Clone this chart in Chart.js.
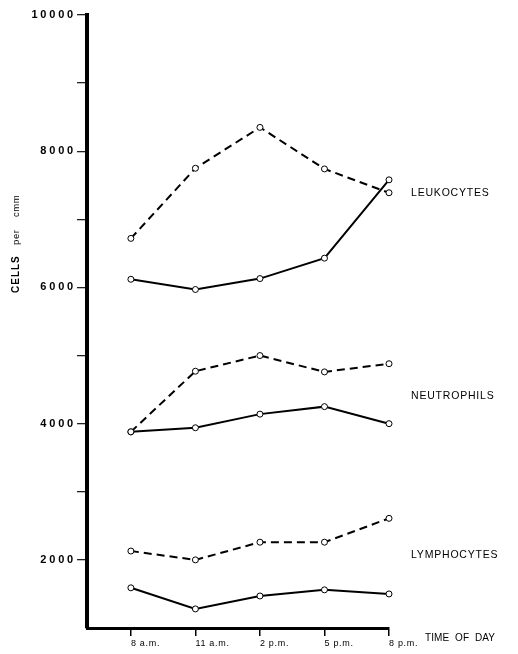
<!DOCTYPE html>
<html>
<head>
<meta charset="utf-8">
<style>
  html, body { margin: 0; padding: 0; background: #fff; }
  canvas { display: block; }
</style>
<script src="https://cdn.jsdelivr.net/npm/chart.js@4.4.1/dist/chart.umd.min.js"></script>
</head>
<body>
<canvas id="cells" width="518" height="654"></canvas>
<script>
// Sampling times
const timeLabels = ['8 a.m.', '11 a.m.', '2 p.m.', '5 p.m.', '8 p.m.'];

// Cell counts per cmm; group A is drawn dashed, group B solid
const leukocytesA  = [6720, 7750, 8350, 7740, 7390];
const leukocytesB  = [6120, 5970, 6130, 6430, 7580];
const neutrophilsA = [3880, 4770, 5000, 4760, 4880];
const neutrophilsB = [3880, 3940, 4140, 4250, 4000];
const lymphocytesA = [2130, 2000, 2260, 2260, 2610];
const lymphocytesB = [1590, 1280, 1470, 1560, 1500];

// Y axis ticks: labelled every 2000, unlabelled marks in between
const yLabelTicks = [2000, 4000, 6000, 8000, 10000];
const yMinorTicks = [3000, 5000, 7000, 9000];

const seriesNames = ['LEUKOCYTES', 'NEUTROPHILS', 'LYMPHOCYTES'];

const FONT = '"Liberation Sans", Arial, Helvetica, sans-serif';

function toPoints(values) {
  return values.map((v, i) => ({ x: i, y: v }));
}

function series(name, values, dashed) {
  return {
    label: name,
    data: toPoints(values),
    borderColor: '#000',
    borderWidth: 2,
    borderDash: dashed ? [8, 5] : [],
    pointRadius: 3,
    pointBorderWidth: 1,
    pointBorderColor: '#000',
    pointBackgroundColor: '#fff',
    tension: 0,
    fill: false,
    clip: false
  };
}

// Text that Chart.js does not place by itself: series names and axis captions
const annotate = {
  id: 'annotate',
  beforeDraw(chart) {
    chart.ctx.letterSpacing = '0.7px';      // x tick labels
  },
  afterDatasetsDraw(chart) {
    chart.ctx.letterSpacing = '2.8px';      // y tick labels (drawn on a higher layer)
  },
  afterDraw(chart, args, opts) {
    const ctx = chart.ctx;
    const y = chart.scales.y;
    const area = chart.chartArea;
    ctx.save();
    ctx.fillStyle = '#000';
    ctx.textAlign = 'left';
    ctx.textBaseline = 'middle';

    ctx.letterSpacing = '0.8px';
    ctx.font = '10.5px ' + FONT;
    seriesNames.forEach((name, i) => {
      ctx.fillText(name, area.right + 22, y.getPixelForValue(opts.levels[i]));
    });

    ctx.letterSpacing = '0.1px';
    ctx.font = '10px ' + FONT;
    ctx.fillText('TIME  OF  DAY', area.right + 36, area.bottom + 10);

    // Rotated y caption, read bottom to top
    ctx.translate(19, 293);
    ctx.rotate(-Math.PI / 2);
    ctx.textBaseline = 'alphabetic';
    ctx.letterSpacing = '1px';
    ctx.font = 'bold 10px ' + FONT;
    ctx.fillText('CELLS', 0, 0);
    ctx.letterSpacing = '0.6px';
    ctx.font = '9.5px ' + FONT;
    ctx.fillText('per', 48, 0);
    ctx.fillText('cmm', 76, 0);
    ctx.restore();
    ctx.letterSpacing = '0px';
  }
};

new Chart(document.getElementById('cells'), {
  type: 'line',
  data: {
    datasets: [
      series('Leukocytes A', leukocytesA, true),
      series('Leukocytes B', leukocytesB, false),
      series('Neutrophils A', neutrophilsA, true),
      series('Neutrophils B', neutrophilsB, false),
      series('Lymphocytes A', lymphocytesA, true),
      series('Lymphocytes B', lymphocytesB, false)
    ]
  },
  options: {
    responsive: false,
    animation: false,
    devicePixelRatio: 1,
    layout: { padding: { left: 0, top: 15, right: 129, bottom: 0 } },
    plugins: {
      legend: { display: false },
      tooltip: { enabled: false },
      annotate: { levels: [7380, 4410, 2070] }
    },
    scales: {
      x: {
        type: 'linear',
        min: -0.68,
        max: timeLabels.length - 1,
        afterBuildTicks(scale) {
          scale.ticks = timeLabels.map((_, i) => ({ value: i }));
        },
        afterFit(scale) {
          scale.height = 26;
          scale.paddingLeft = 0;
          scale.paddingRight = 0;
        },
        ticks: {
          autoSkip: false,
          maxRotation: 0,
          align: 'start',
          padding: 2,
          color: '#000',
          font: { family: FONT, size: 9 },
          callback: (v) => timeLabels[v] ?? ''
        },
        grid: {
          drawOnChartArea: false,
          drawTicks: true,
          tickLength: 8,
          color: '#000',
          lineWidth: 1.5
        },
        border: { display: true, color: '#000', width: 3 }
      },
      y: {
        min: 1000,
        max: 10000,
        afterBuildTicks(scale) {
          scale.ticks = yLabelTicks.concat(yMinorTicks)
            .sort((a, b) => a - b)
            .map(v => ({ value: v }));
        },
        afterFit(scale) {
          scale.width = 87;
          scale.paddingTop = 0;
          scale.paddingBottom = 0;
        },
        ticks: {
          z: 1,
          padding: 1,
          color: '#000',
          font: { family: FONT, size: 11, weight: 'bold' },
          callback: (v) => yLabelTicks.includes(v) ? String(v) : ''
        },
        grid: {
          drawOnChartArea: false,
          drawTicks: true,
          tickLength: 10,
          color: '#222',
          lineWidth: 1.3
        },
        border: { display: true, color: '#000', width: 4 }
      }
    }
  },
  plugins: [annotate]
});
</script>
</body>
</html>
